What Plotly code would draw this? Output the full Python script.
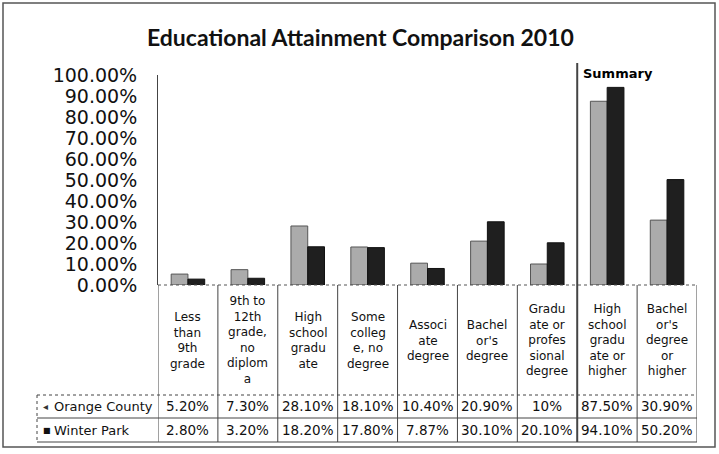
import plotly.graph_objects as go

categories = ["Less than 9th grade", "9th to 12th grade, no diploma", "High school graduate",
              "Some college, no degree", "Associate degree", "Bachelor's degree",
              "Graduate or professional degree", "High school graduate or higher",
              "Bachelor's degree or higher"]
category_labels = ["Less<br>than<br>9th<br>grade", "9th to<br>12th<br>grade,<br>no<br>diplom<br>a",
                   "High<br>school<br>gradu<br>ate", "Some<br>colleg<br>e, no<br>degree",
                   "Associ<br>ate<br>degree", "Bachel<br>or's<br>degree",
                   "Gradu<br>ate or<br>profes<br>sional<br>degree",
                   "High<br>school<br>gradu<br>ate or<br>higher",
                   "Bachel<br>or's<br>degree<br>or<br>higher"]
orange_county = [5.2, 7.3, 28.1, 18.1, 10.4, 20.9, 10.0, 87.5, 30.9]
winter_park = [2.8, 3.2, 18.2, 17.8, 7.87, 30.1, 20.1, 94.1, 50.2]
orange_labels = ["5.20%", "7.30%", "28.10%", "18.10%", "10.40%", "20.90%", "10%", "87.50%", "30.90%"]
winter_labels = ["2.80%", "3.20%", "18.20%", "17.80%", "7.87%", "30.10%", "20.10%", "94.10%", "50.20%"]
series_names = ["Orange County", "Winter Park"]
title_text = "Educational Attainment Comparison 2010"
summary_text = "Summary"

W, H = 719, 454
L, R, T, B = 158, 697, 75, 285  # plot area pixels


def px(X):
    return (X - L) / (R - L)


def py(Y):
    return (B - Y) / (B - T)


fig = go.Figure()
fig.add_trace(go.Bar(x=categories, y=[v / 100 for v in orange_county], name=series_names[0],
                     marker=dict(color="#ababab", line=dict(color="#555555", width=1))))
fig.add_trace(go.Bar(x=categories, y=[v / 100 for v in winter_park], name=series_names[1],
                     marker=dict(color="#1f1f1f", line=dict(color="#111111", width=1))))

shapes = []
annotations = []
n = len(categories)
line_c = "#444444"

# outer frame
shapes.append(dict(type="rect", xref="paper", yref="paper", x0=px(3), x1=px(715), y0=py(447), y1=py(3),
                   line=dict(color="#555555", width=1.5)))
# dotted zero line
shapes.append(dict(type="line", xref="paper", yref="paper", x0=0, x1=1, y0=0, y1=0,
                   line=dict(color="#555555", width=1, dash="dot")))
# column boundaries in table
for k in range(n + 1):
    xb = k - 0.5
    y_top = py(285)
    width = 1
    if k == 7:
        y_top = py(63)
        width = 2
    shapes.append(dict(type="line", xref="x", yref="paper", x0=xb, x1=xb, y0=y_top, y1=py(442),
                       line=dict(color=line_c, width=width)))
# horizontal row lines
for Y in [395, 418, 442]:
    shapes.append(dict(type="line", xref="paper", yref="paper", x0=px(37), x1=1, y0=py(Y), y1=py(Y),
                       line=dict(color=line_c, width=1, dash="dot" if Y == 395 else "solid")))
# left legend box edge
shapes.append(dict(type="line", xref="paper", yref="paper", x0=px(37), x1=px(37), y0=py(395), y1=py(442),
                   line=dict(color=line_c, width=1, dash="dot")))

cell_font = dict(family="DejaVu Sans", size=12, color="#111111")
val_font = dict(family="DejaVu Sans", size=13.5, color="#111111")
for i in range(n):
    annotations.append(dict(x=i, y=py(340), xref="x", yref="paper", text=category_labels[i],
                            showarrow=False, xanchor="center", yanchor="middle", align="center",
                            font=cell_font))
    annotations.append(dict(x=i, y=py(406), xref="x", yref="paper", text=orange_labels[i],
                            showarrow=False, xanchor="center", yanchor="middle", font=val_font))
    annotations.append(dict(x=i, y=py(430), xref="x", yref="paper", text=winter_labels[i],
                            showarrow=False, xanchor="center", yanchor="middle", font=val_font))

# legend keys inside table
annotations.append(dict(x=px(41), y=py(406), xref="paper", yref="paper", text="◂",
                        showarrow=False, xanchor="left", yanchor="middle",
                        font=dict(family="DejaVu Sans", size=10, color="#333333")))
annotations.append(dict(x=px(41), y=py(430), xref="paper", yref="paper", text="■",
                        showarrow=False, xanchor="left", yanchor="middle",
                        font=dict(family="DejaVu Sans", size=8, color="#111111")))
annotations.append(dict(x=px(52), y=py(406), xref="paper", yref="paper", text=series_names[0],
                        showarrow=False, xanchor="left", yanchor="middle",
                        font=dict(family="DejaVu Sans", size=13, color="#111111")))
annotations.append(dict(x=px(52), y=py(430), xref="paper", yref="paper", text=series_names[1],
                        showarrow=False, xanchor="left", yanchor="middle",
                        font=dict(family="DejaVu Sans", size=13, color="#111111")))

# summary label
annotations.append(dict(x=6.5, y=py(73), xref="x", yref="paper", text="<b>" + summary_text + "</b>",
                        showarrow=False, xanchor="left", yanchor="middle", xshift=4,
                        font=dict(family="DejaVu Sans", size=13, color="#000000")))
# title
annotations.append(dict(x=px(360), y=py(37), xref="paper", yref="paper", text="<b>" + title_text + "</b>",
                        showarrow=False, xanchor="center", yanchor="middle",
                        font=dict(family="Lato", size=23, color="#111111")))

fig.update_layout(
    width=W, height=H,
    margin=dict(l=L, r=W - R, t=T, b=H - B, pad=0),
    paper_bgcolor="white", plot_bgcolor="white",
    barmode="group", bargap=0.44, bargroupgap=0.0,
    showlegend=False,
    shapes=shapes, annotations=annotations,
    xaxis=dict(range=[-0.5, n - 0.5], showticklabels=False, showgrid=False, zeroline=False,
               showline=False, ticks=""),
    yaxis=dict(range=[0, 1], tickvals=[i / 10 for i in range(11)], tickformat=".2%",
               showgrid=False, zeroline=False, showline=True, linecolor="#444444", linewidth=1,
               ticks="", ticklabelstandoff=16,
               tickfont=dict(family="DejaVu Sans", size=19, color="#111111")),
)

fig.write_html("out.html")
